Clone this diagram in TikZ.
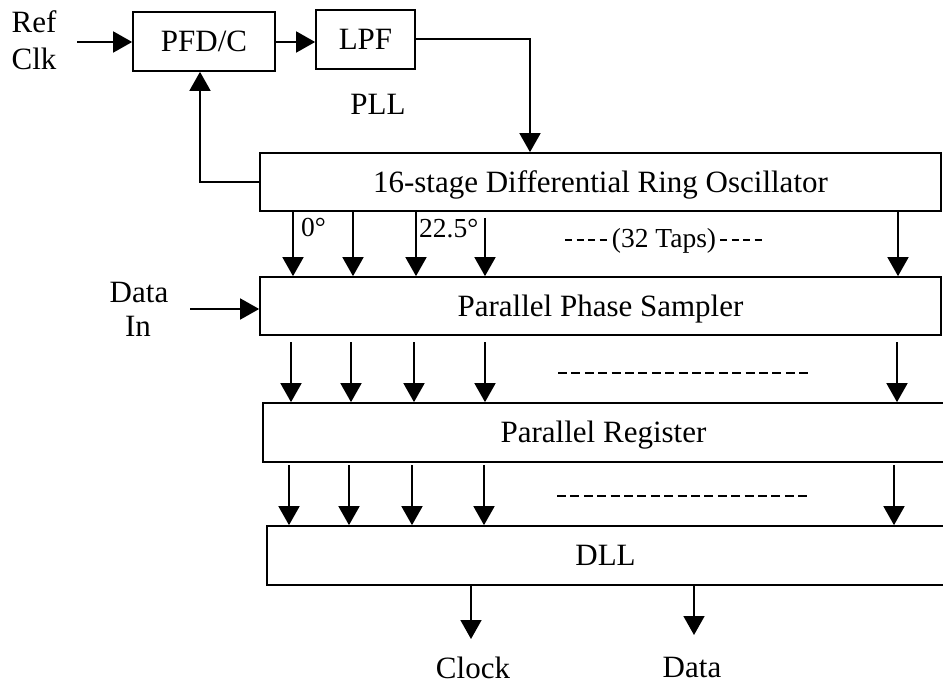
\documentclass[tikz,border=0pt]{standalone}
\usepackage{fontspec}
\setmainfont{Liberation Serif}
\usetikzlibrary{arrows.meta}

\tikzset{
  lbl/.style={font=\fontsize{31}{36}\selectfont, inner sep=0pt},
  sml/.style={font=\fontsize{27.5}{31}\selectfont, inner sep=0pt},
  blk/.style={draw, line width=1.7pt, inner sep=0pt,
              font=\fontsize{31}{36}\selectfont,
              text height=20.5pt, text depth=0pt},
  arr/.style={line width=1.7pt, -{Triangle[length=19pt,width=21pt]}},
  wire/.style={line width=1.7pt},
  tapdash/.style={line width=1.8pt, dash pattern=on 7pt off 4.5pt},
  dots/.style={line width=2pt, dash pattern=on 9pt off 4.4pt}
}

\begin{document}
\begin{tikzpicture}[x=1pt, y=-1pt]
  \useasboundingbox (0,0) rectangle (943,687);

  % PLL blocks
  \node[blk, minimum width=142pt, minimum height=59pt] (pfd) at (204,41.5) {PFD/C};
  \node[blk, minimum width=99pt,  minimum height=59pt] (lpf) at (365.5,39.5) {LPF};
  \node[lbl, anchor=base] (pll) at (378,115) {PLL};

  % Main datapath blocks
  \node[blk, minimum width=681pt, minimum height=58pt] (ring) at (600.5,182) {16-stage Differential Ring Oscillator};
  \node[blk, minimum width=681pt, minimum height=58pt] (samp) at (600.5,306) {Parallel Phase Sampler};
  \node[blk, minimum width=681pt, minimum height=59pt] (reg)  at (603.5,432.5) {Parallel Register};
  \node[blk, minimum width=677pt, minimum height=59pt] (dll)  at (605.5,555.5) {DLL};

  % Input labels
  \node[lbl, anchor=base] (ref)  at (34,33)  {Ref};
  \node[lbl, anchor=base] (clk)  at (34,70)  {Clk};
  \node[lbl, anchor=base] (dat)  at (139,302) {Data};
  \node[lbl, anchor=base] (inl)  at (138,337) {In};

  % Output labels
  \node[lbl, anchor=base] (clkl) at (473,678) {Clock};
  \node[lbl, anchor=base] (datl) at (692,677) {Data};

  % Free ends of connectors
  \coordinate (refin)  at (77,42);
  \coordinate (din)    at (190,309);
  \coordinate (vin)    at (530,0);
  \coordinate (fb)     at (200,0);
  \coordinate (clkout) at (471,639);
  \coordinate (datout) at (694,635);

  % PLL loop
  \draw[arr] (refin) -- (refin -| pfd.west);
  \draw[arr] (pfd.east |- refin) -- (refin -| lpf.west);
  \draw[arr] (lpf.east |- 0,39) -| (vin |- ring.north);
  \draw[arr] (ring.west) -| (fb |- pfd.south);

  % Data input
  \draw[arr] (din) -- (din -| samp.west);

  % Oscillator taps
  \foreach \x in {293,353,416,898} {
    \coordinate (t) at (\x,0);
    \draw[arr] (t |- ring.south) -- (t |- samp.north);
  }
  \coordinate (t4) at (485,218);
  \draw[arr] (t4) -- (t4 |- samp.north);

  % Sampler to register
  \foreach \x in {291,351,414,485,897} {
    \coordinate (t) at (\x,342);
    \draw[arr] (t) -- (t |- reg.north);
  }

  % Register to DLL
  \foreach \x in {289,349,412,484,894} {
    \coordinate (t) at (\x,465);
    \draw[arr] (t) -- (t |- dll.north);
  }

  % DLL outputs
  \draw[arr] (clkout |- dll.south) -- (clkout);
  \draw[arr] (datout |- dll.south) -- (datout);

  % Tap annotations
  \node[sml, anchor=base west] (ph0)  at (301,237) {0°};
  \node[sml, anchor=base west] (ph1)  at (419,238) {22.5°};
  \node[sml, anchor=base] (taps) at (664,248) {(32 Taps)};
  \coordinate (tl) at (565,240);
  \coordinate (tr) at (720,240);
  \draw[tapdash] (tl) -- ++(41.5,0);
  \draw[tapdash] (tr) -- ++(41.5,0);

  % Continuation marks between the rows
  \draw[dots] (558,373) -- (810,373);
  \draw[dots] (557,496) -- (808,496);
\end{tikzpicture}
\end{document}
